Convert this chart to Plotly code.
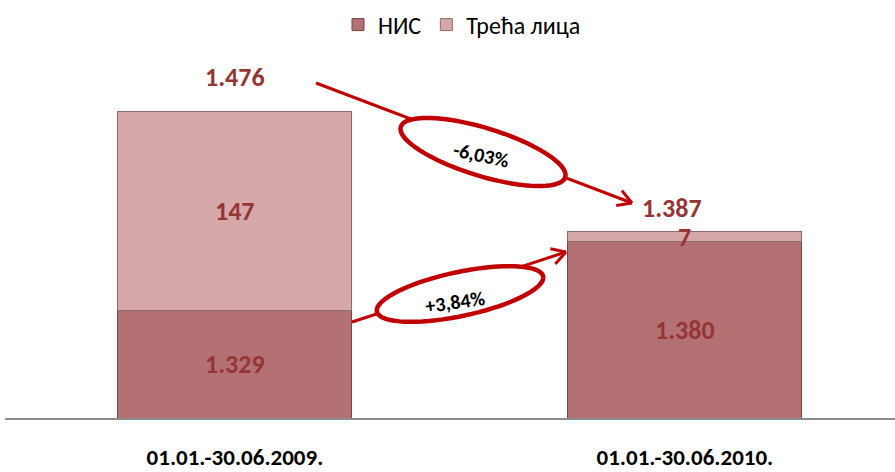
import math
import plotly.graph_objects as go

# ---- data ----
categories = ["01.01.-30.06.2009.", "01.01.-30.06.2010."]
nis_values = [1329, 1380]
third_values = [147, 7]
totals = [1476, 1387]
changes = ["-6,03%", "+3,84%"]
series_names = ["НИС", "Трећа лица"]

W, H = 895, 472
ML, MR, MT, MB = 5, 0, 50, 54
PW, PH = W - ML - MR, H - MT - MB
Y0, Y1 = 1250, 1521
FONT = "Carlito, Calibri, Lato, sans-serif"
LBL = "#943634"
RED = "#c00000"

x = [0, 1]
fig = go.Figure()
fig.add_bar(x=x, y=nis_values, name=series_names[0], width=0.52,
            marker=dict(color="#b47173", line=dict(color="#7a4446", width=1)),
            textposition="none")
fig.add_bar(x=x, y=third_values, name=series_names[1], width=0.52,
            marker=dict(color="#d7a8aa", line=dict(color="#8e6a6b", width=1)),
            textposition="none")


def fmt(v):
    return f"{v:,}".replace(",", ".")


LS = 26
ann = []
for i in range(2):
    ann.append(dict(x=x[i], y=(Y0 + nis_values[i]) / 2, text=f"<b>{fmt(nis_values[i])}</b>",
                    showarrow=False, font=dict(size=LS, color=LBL, family=FONT)))
    ann.append(dict(x=x[i], y=nis_values[i] + third_values[i] / 2, text=f"<b>{fmt(third_values[i])}</b>",
                    showarrow=False, font=dict(size=LS, color=LBL, family=FONT)))
ann.append(dict(x=x[0], y=totals[0], yshift=34, text=f"<b>{fmt(totals[0])}</b>",
                showarrow=False, font=dict(size=LS, color=LBL, family=FONT)))
ann.append(dict(x=x[1], y=totals[1], yshift=24, xshift=-13, text=f"<b>{fmt(totals[1])}</b>",
                showarrow=False, font=dict(size=LS, color=LBL, family=FONT)))


def px(xp):
    return (xp - ML) / PW


def py(yp):
    return 1 - (yp - MT) / PH


shapes = []


def arrow(x0, y0, x1, y1):
    shapes.append(dict(type="line", xref="paper", yref="paper",
                       x0=px(x0), y0=py(y0), x1=px(x1), y1=py(y1),
                       line=dict(color=RED, width=3)))
    ang = math.atan2(y1 - y0, x1 - x0)
    for d in (math.radians(150), math.radians(-150)):
        hx = x1 + 16 * math.cos(ang + d)
        hy = y1 + 16 * math.sin(ang + d)
        shapes.append(dict(type="line", xref="paper", yref="paper",
                           x0=px(x1), y0=py(y1), x1=px(hx), y1=py(hy),
                           line=dict(color=RED, width=3)))


def ellipse(cx, cy, a, b, deg):
    t = math.radians(deg)
    pts = []
    for k in range(73):
        u = 2 * math.pi * k / 72
        ex = a * math.cos(u)
        ey = b * math.sin(u)
        X = cx + ex * math.cos(t) - ey * math.sin(t)
        Y = cy + ex * math.sin(t) + ey * math.cos(t)
        pts.append(f"{px(X):.5f},{py(Y):.5f}")
    path = "M " + " L ".join(pts) + " Z"
    shapes.append(dict(type="path", xref="paper", yref="paper", path=path,
                       fillcolor="white", line=dict(color=RED, width=4.5)))


arrow(316, 83, 632, 203)
arrow(352, 322, 566, 252)
ellipse(483, 152, 86, 24, 17)
ellipse(460, 294, 85, 22, -12)

PS = 20
ann.append(dict(xref="paper", yref="paper", x=px(481), y=py(155), xanchor="center", yanchor="middle",
                text=f"<b>{changes[0]}</b>",
                showarrow=False, textangle=12, font=dict(size=PS, color="black", family=FONT)))
ann.append(dict(xref="paper", yref="paper", x=px(455), y=py(302), xanchor="center", yanchor="middle",
                text=f"<b>{changes[1]}</b>",
                showarrow=False, textangle=-8, font=dict(size=PS, color="black", family=FONT)))

fig.update_layout(
    barmode="stack",
    width=W, height=H,
    margin=dict(l=ML, r=MR, t=MT, b=MB, autoexpand=False),
    paper_bgcolor="white", plot_bgcolor="white",
    annotations=ann, shapes=shapes,
    legend=dict(orientation="h", x=px(462), xanchor="center", y=py(25), yanchor="middle",
                font=dict(size=24, color="black", family=FONT), traceorder="normal",
                itemwidth=30),
    xaxis=dict(range=[-0.511, 1.467], tickvals=x, ticktext=[f"<b>{c}</b>" for c in categories],
               showgrid=False, zeroline=False, showline=True, linecolor="#8c8c8c", linewidth=2,
               ticks="", ticklabelstandoff=17, automargin=False,
               tickfont=dict(size=23, color="black", family=FONT)),
    yaxis=dict(range=[Y0, Y1], visible=False, showgrid=False),
    showlegend=True,
)

fig.write_html("out.html", config={"displayModeBar": False},
               post_script="document.body.style.margin='0';document.body.style.padding='0';")
